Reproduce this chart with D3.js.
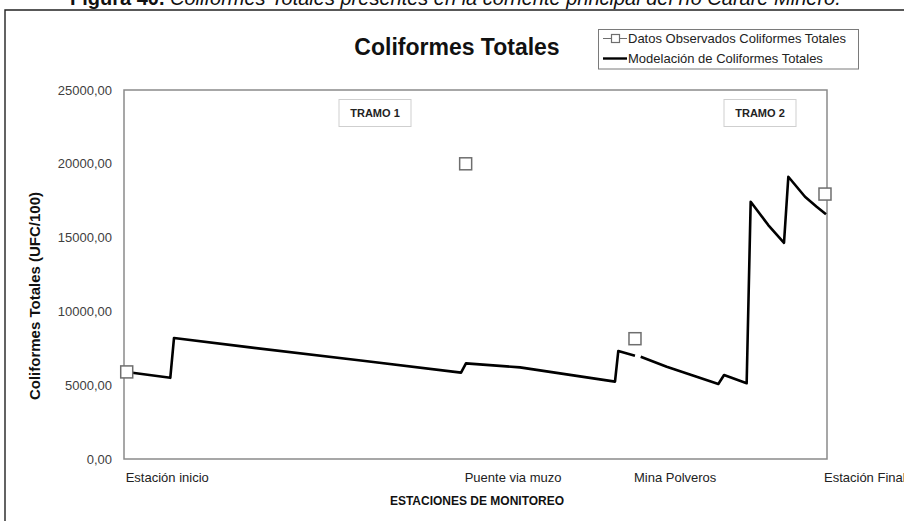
<!DOCTYPE html>
<html>
<head>
<meta charset="utf-8">
<script src="https://cdn.jsdelivr.net/npm/d3@7"></script>
<style>
  html, body { margin: 0; padding: 0; background: #fff; }
  svg { display: block; }
  text { font-family: "Liberation Sans", Arial, sans-serif; }
</style>
</head>
<body>
<svg id="chart" width="904" height="521"></svg>
<script>
// Monitoring stations along the river (distance in km from the first station)
const stationNames = ["Estación inicio", "Puente via muzo", "Mina Polveros", "Estación Final"];
const stationKm = [0.27, 34.02, 50.88, 69.8];

// Observed total coliforms at each station (UFC/100)
const observedValues = [5900, 20000, 8150, 17950];

// Modelled total coliforms along the main channel (null = break in the profile)
const modelKm = [0.27, 4.61, 4.98, 12.55, 24.0, 33.56, 34.05, 39.43, 48.89, 49.22, 50.88,
                 50.95,
                 51.45, 54.04, 59.18, 59.75, 62.0, 62.4, 64.15, 65.72, 66.15, 67.81, 68.97, 69.9];
const modelValues = [5900, 5500, 8200, 7560, 6640, 5850, 6480, 6210, 5240, 7320, 7000,
                     null,
                     6930, 6250, 5080, 5690, 5130, 17430, 15850, 14650, 19125, 17770, 17090, 16580];

const yTicks = [0, 5000, 10000, 15000, 20000, 25000];

const svg = d3.select("#chart");
const W = 904, H = 521;
const margin = { left: 124, right: 77, top: 90, bottom: 62 };

const x = d3.scaleLinear().domain([0, 70]).range([margin.left, W - margin.right]);
const y = d3.scaleLinear().domain([0, 25000]).range([H - margin.bottom, margin.top]);

const locale = d3.formatLocale({ decimal: ",", thousands: "", grouping: [3], currency: ["$", ""] });
const fmt = locale.format(".2f");

// Figure caption (partly above the page edge)
const cap = svg.append("text").attr("x", 70).attr("y", 5).attr("font-size", 20).attr("fill", "#111");
cap.append("tspan").attr("font-weight", "bold").text("Figura 40.");
cap.append("tspan").attr("font-style", "italic").text(" Coliformes Totales presentes en la corriente principal del río Carare Minero.");

// Outer chart frame
svg.append("path").attr("d", `M5,${H} V10 H${W}`).attr("fill", "none").attr("stroke", "#222").attr("stroke-width", 1.4);

// Chart title
svg.append("text").attr("x", 457).attr("y", 55).attr("text-anchor", "middle")
  .attr("font-size", 23).attr("font-weight", "bold").attr("fill", "#111").text("Coliformes Totales");

// Plot area border
svg.append("rect")
  .attr("x", x(0)).attr("y", y(25000))
  .attr("width", x(70) - x(0)).attr("height", y(0) - y(25000))
  .attr("fill", "none").attr("stroke", "#8a8a8a").attr("stroke-width", 1.5);

// Y axis labels
const yAxis = d3.axisLeft(y).tickValues(yTicks).tickFormat(fmt).tickSize(0).tickPadding(12);
svg.append("g").attr("transform", `translate(${x(0)},0)`).call(yAxis)
  .call(g => g.select(".domain").remove())
  .call(g => g.selectAll("text").attr("font-size", 13).attr("fill", "#404040")
    .attr("font-family", "'Liberation Sans', Arial, sans-serif"));

// Y axis title
svg.append("text")
  .attr("transform", `translate(40,296) rotate(-90)`)
  .attr("text-anchor", "middle").attr("font-size", 15).attr("font-weight", "bold").attr("fill", "#111")
  .text("Coliformes Totales (UFC/100)");

// Station labels along the x axis
svg.append("g").selectAll("text").data(stationNames).join("text")
  .attr("x", (d, i) => x(stationKm[i]) - 1)
  .attr("y", 482)
  .attr("font-size", 13).attr("fill", "#222")
  .text(d => d);

// X axis title
svg.append("text").attr("x", 477).attr("y", 505).attr("text-anchor", "middle")
  .attr("font-size", 12).attr("font-weight", "bold").attr("fill", "#111").text("ESTACIONES DE MONITOREO");

// Reach labels
const tramos = [{ label: "TRAMO 1", cx: 375 }, { label: "TRAMO 2", cx: 760 }];
const tg = svg.append("g").selectAll("g").data(tramos).join("g");
tg.append("rect").attr("x", d => d.cx - 36).attr("y", 99.5).attr("width", 72).attr("height", 27)
  .attr("fill", "#fff").attr("stroke", "#cfcfcf").attr("stroke-width", 1);
tg.append("text").attr("x", d => d.cx).attr("y", 117).attr("text-anchor", "middle")
  .attr("font-family", "Lato, 'Open Sans', sans-serif").attr("font-weight", "bold")
  .attr("font-size", 11).attr("fill", "#222").text(d => d.label);

// Modelled profile
const modelPts = modelKm.map((k, i) => ({ k, v: modelValues[i] }));
const line = d3.line().defined(d => d.v !== null).x(d => x(d.k)).y(d => y(d.v));
svg.append("path").datum(modelPts).attr("d", line)
  .attr("fill", "none").attr("stroke", "#000").attr("stroke-width", 2.6)
  .attr("stroke-linejoin", "round");

// Observed values
svg.append("g").selectAll("rect").data(observedValues).join("rect")
  .attr("x", (d, i) => x(stationKm[i]) - 6).attr("y", d => y(d) - 6)
  .attr("width", 12).attr("height", 12)
  .attr("fill", "#fff").attr("stroke", "#6e6e6e").attr("stroke-width", 1.5);

// Legend
const lg = svg.append("g");
lg.append("rect").attr("x", 598.5).attr("y", 29.5).attr("width", 260).attr("height", 39.5)
  .attr("fill", "#fff").attr("stroke", "#7a7a7a").attr("stroke-width", 1);
lg.append("line").attr("x1", 603).attr("x2", 627).attr("y1", 38.5).attr("y2", 38.5)
  .attr("stroke", "#6e6e6e").attr("stroke-width", 1);
lg.append("rect").attr("x", 611.5).attr("y", 34.5).attr("width", 8).attr("height", 8)
  .attr("fill", "#fff").attr("stroke", "#6e6e6e").attr("stroke-width", 1.2);
lg.append("text").attr("x", 628).attr("y", 43).attr("font-size", 13).attr("fill", "#222")
  .text("Datos Observados Coliformes Totales");
lg.append("line").attr("x1", 603).attr("x2", 627).attr("y1", 58.5).attr("y2", 58.5)
  .attr("stroke", "#000").attr("stroke-width", 2.4);
lg.append("text").attr("x", 628).attr("y", 63).attr("font-size", 13).attr("fill", "#222")
  .text("Modelación de Coliformes Totales");
</script>
</body>
</html>
